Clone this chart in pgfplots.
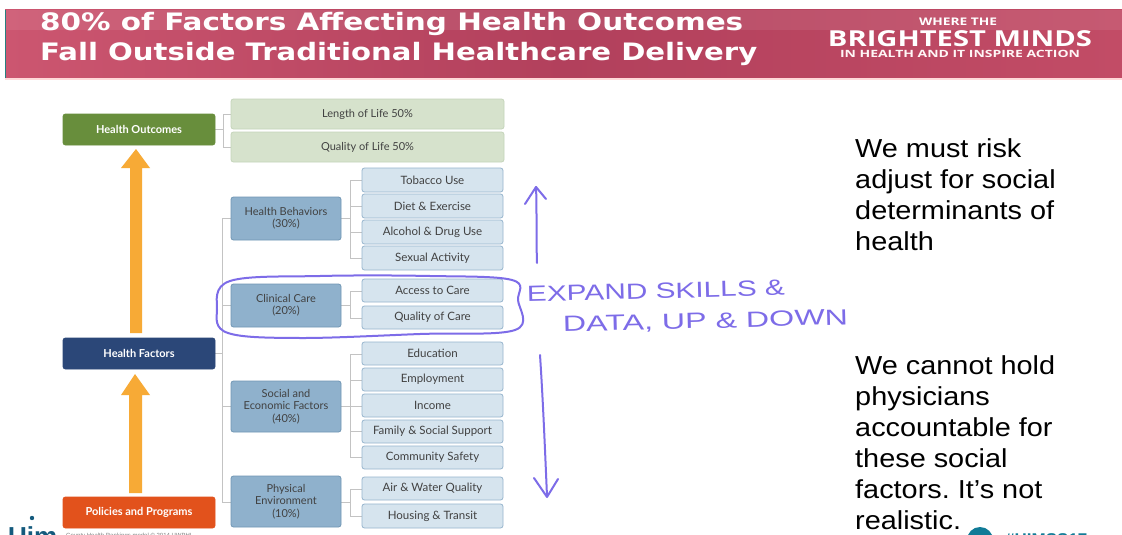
\documentclass[border=0pt]{standalone}
\usepackage{pgfplots}
\pgfplotsset{compat=1.18}
\usepackage{fontspec}
\setmainfont{Liberation Sans}
\newfontfamily\lato{Lato}
\newfontfamily\deja{DejaVu Sans}
\newfontfamily\opens{Open Sans}
\usetikzlibrary{calc}
\frenchspacing
\definecolor{banL}{RGB}{204,86,112}
\definecolor{banM}{RGB}{178,64,92}
\definecolor{banR}{RGB}{194,76,102}
\definecolor{hgreen}{RGB}{104,142,60}
\definecolor{lgreen}{RGB}{214,226,204}
\definecolor{lgreenB}{RGB}{196,212,186}
\definecolor{navy}{RGB}{43,71,120}
\definecolor{ored}{RGB}{226,82,28}
\definecolor{arrowor}{RGB}{247,170,54}
\definecolor{mblue}{RGB}{143,177,204}
\definecolor{mblueB}{RGB}{112,150,180}
\definecolor{lblue}{RGB}{214,228,238}
\definecolor{lblueB}{RGB}{150,180,205}
\definecolor{purp}{RGB}{125,108,232}
\definecolor{conn}{RGB}{195,195,195}
\definecolor{dtext}{RGB}{65,65,65}
\definecolor{uteal}{RGB}{20,90,125}
\tikzset{
  bxout/.style={fill=hgreen,draw=hgreen},
  bxout t/.style={text=white,font=\lato\bfseries\fontsize{11}{13}\selectfont},
  bxho/.style={fill=navy,draw=navy},
  bxho t/.style={text=white,font=\lato\bfseries\fontsize{11}{13}\selectfont},
  bxpp/.style={fill=ored,draw=ored},
  bxpp t/.style={text=white,font=\lato\bfseries\fontsize{11}{13}\selectfont},
  bxlg/.style={fill=lgreen,draw=lgreenB},
  bxlg t/.style={text=dtext,font=\lato\fontsize{11}{13}\selectfont},
  bxmb/.style={fill=mblue,draw=mblueB},
  bxmb t/.style={text=dtext,align=center,font=\lato\fontsize{11}{12.5}\selectfont},
  bxlb/.style={fill=lblue,draw=lblueB},
  bxlb t/.style={text=dtext,font=\lato\fontsize{11.5}{13}\selectfont},
}
\newcommand{\bx}[6]{%
  \path[#5,rounded corners=2.5pt,line width=0.8pt] (#1,#2) rectangle (#3,#4);
  \node[#5 t,inner sep=0pt] at ($(#1,#2)!0.5!(#3,#4)$) {#6};}
\begin{document}
\begin{tikzpicture}
\clip (0,0) rectangle (1122pt,535pt);
\fill[white] (0,0) rectangle (1122pt,535pt);
\begin{axis}[scale only axis, width=1122pt, height=535pt,
  xmin=0, xmax=1122, ymin=0, ymax=535, y dir=reverse,
  hide axis, clip=false]
% banner
\shade[left color=banL, right color=banR, middle color=banM] (5,10) rectangle (1122,78);
\fill[white,opacity=0.08] (5,10) rectangle (1122,30);
\draw[teal!70!gray, line width=1.5pt] (5.5,10) -- (5.5,78);
\draw[red!15, line width=1.2pt] (5,79) -- (1122,79);
\node[anchor=base west, text=white, inner sep=0pt] at (40,31)
  {\resizebox{703pt}{\height}{\deja\bfseries\fontsize{24}{28}\selectfont 80\% of Factors Affecting Health Outcomes}};
\node[anchor=base west, text=white, inner sep=0pt] at (40,61)
  {\resizebox{717pt}{\height}{\deja\bfseries\fontsize{24}{28}\selectfont Fall Outside Traditional Healthcare Delivery}};
\node[anchor=base, text=white, inner sep=0pt] at (958,26)
  {\resizebox{78pt}{\height}{\opens\bfseries\fontsize{10.5}{12}\selectfont WHERE THE}};
\node[anchor=base, text=white, inner sep=0pt] at (960,47)
  {\resizebox{264pt}{\height}{\opens\bfseries\fontsize{22}{26}\selectfont BRIGHTEST MINDS}};
\node[anchor=base, text=white!85!pink, inner sep=0pt] at (960,58)
  {\resizebox{240pt}{\height}{\opens\bfseries\fontsize{10}{12}\selectfont IN HEALTH AND IT INSPIRE ACTION}};
% connectors
\draw[conn, line width=0.9pt] (215,129) -- (223,129) (223,114) -- (223,147) (223,114) -- (231,114) (223,147) -- (231,147);
\draw[conn, line width=0.9pt] (215,353) -- (222,353) (222,218) -- (222,502);
\draw[conn, line width=0.9pt] (222,218) -- (231,218) (222,305) -- (231,305) (222,406) -- (231,406) (222,502) -- (231,502);
\draw[conn, line width=0.9pt] (341,218) -- (350,218) (350,180) -- (350,258);
\draw[conn, line width=0.9pt] (350,180) -- (362,180) (350,206) -- (362,206) (350,232) -- (362,232) (350,258) -- (362,258);
\draw[conn, line width=0.9pt] (341,305) -- (350,305) (350,291) -- (350,318) (350,291) -- (362,291) (350,318) -- (362,318);
\draw[conn, line width=0.9pt] (341,406) -- (350,406) (350,354) -- (350,457);
\draw[conn, line width=0.9pt] (350,354) -- (362,354) (350,380) -- (362,380) (350,406) -- (362,406) (350,431) -- (362,431) (350,457) -- (362,457);
\draw[conn, line width=0.9pt] (341,502) -- (350,502) (350,489) -- (350,516) (350,489) -- (362,489) (350,516) -- (362,516);
% arrows
\fill[arrowor] (130,333) -- (130,168) -- (121,168) -- (136,149) -- (150,168) -- (142,168) -- (142,333) -- cycle;
\fill[arrowor] (129,493) -- (129,395) -- (121,395) -- (135,374) -- (150,395) -- (142,395) -- (142,493) -- cycle;
% left boxes
\bx{63}{114}{215}{145}{bxout}{Health Outcomes}
\bx{63}{338}{215}{369}{bxho}{Health Factors}
\bx{63}{497}{215}{528}{bxpp}{Policies and Programs}
\bx{231}{99}{504}{129}{bxlg}{Length of Life 50\%}
\bx{231}{132}{504}{162}{bxlg}{Quality of Life 50\%}
% middle boxes
\bx{231}{197}{341}{240}{bxmb}{Health Behaviors\\(30\%)}
\bx{231}{284}{341}{327}{bxmb}{Clinical Care\\(20\%)}
\bx{231}{381}{341}{432}{bxmb}{Social and\\Economic Factors\\(40\%)}
\bx{231}{476}{341}{527}{bxmb}{Physical\\Environment\\(10\%)}
% right boxes
\bx{362}{168}{503}{192}{bxlb}{Tobacco Use}
\bx{362}{194}{503}{218}{bxlb}{Diet \& Exercise}
\bx{362}{220}{503}{244}{bxlb}{Alcohol \& Drug Use}
\bx{362}{246}{503}{270}{bxlb}{Sexual Activity}
\bx{362}{279}{503}{302}{bxlb}{Access to Care}
\bx{362}{306}{503}{329}{bxlb}{Quality of Care}
\bx{362}{342}{503}{365}{bxlb}{Education}
\bx{362}{368}{503}{391}{bxlb}{Employment}
\bx{362}{394}{503}{417}{bxlb}{Income}
\bx{362}{420}{503}{443}{bxlb}{Family \& Social Support}
\bx{362}{446}{503}{469}{bxlb}{Community Safety}
\bx{362}{477}{503}{500}{bxlb}{Air \& Water Quality}
\bx{362}{504}{503}{528}{bxlb}{Housing \& Transit}
% hand drawn
\draw[purp, line width=2pt, line join=round] plot[smooth cycle, tension=0.6] coordinates
  {(230,281) (320,276) (430,276) (512,280) (518,300) (515,330) (420,334) (300,338) (228,333) (217,310)};
\draw[purp, line width=2pt, line cap=round, line join=round] (537,263) .. controls (536,230) and (537,210) .. (536,187);
\draw[purp, line width=2pt, line cap=round, line join=round] (525,204) -- (536,187) -- (546,199);
\draw[purp, line width=2pt, line cap=round] (540,355) .. controls (543,400) and (545,450) .. (547,496);
\draw[purp, line width=2pt, line cap=round, line join=round] (534,478) -- (547,497) -- (558,479);
\node[anchor=base west, text=purp, inner sep=0pt, rotate=1.5] at (527,302)
  {\resizebox{258pt}{\height}{\fontsize{22}{24}\selectfont EXPAND SKILLS \&}};
\node[anchor=base west, text=purp, inner sep=0pt, rotate=1.5] at (563,332)
  {\resizebox{285pt}{\height}{\fontsize{22}{24}\selectfont DATA, UP \& DOWN}};
% right text
\node[anchor=base west, inner sep=0pt, text=black] at (855,157)
  {\scalebox{1.11}[1]{\fontsize{26}{31}\selectfont\begin{tabular}[t]{@{}l@{}}We must risk\\adjust for social\\determinants of\\health\end{tabular}}};
\node[anchor=base west, inner sep=0pt, text=black] at (855,374)
  {\scalebox{1.11}[1]{\fontsize{26}{31}\selectfont\begin{tabular}[t]{@{}l@{}}We cannot hold\\physicians\\accountable for\\these social\\factors. It’s not\\realistic.\end{tabular}}};
% bottom partial items
\node[anchor=base west, text=uteal, inner sep=0pt] at (8,545) {\fontsize{26}{28}\selectfont\bfseries Uim};
\fill[uteal] (32,518) circle (2.2);
\node[anchor=base west, text=gray, inner sep=0pt] at (66,537) {\fontsize{6}{7}\selectfont County Health Rankings model © 2014 UWPHI};
\fill[uteal!80!cyan] (980,540) circle (13);
\node[anchor=base west, text=uteal!80!cyan, inner sep=0pt] at (1005,545) {\fontsize{17}{20}\selectfont\bfseries \#HIMSS17};
\end{axis}
\end{tikzpicture}
\end{document}
